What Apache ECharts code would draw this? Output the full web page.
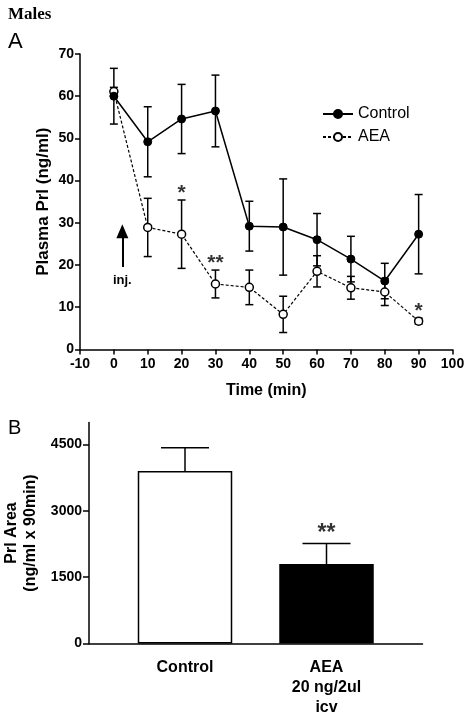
<!DOCTYPE html>
<html>
<head>
<meta charset="utf-8">
<script src="https://cdn.jsdelivr.net/npm/echarts@6/dist/echarts.min.js"></script>
<style>
html,body{margin:0;padding:0;background:#fff;}
#c{width:465px;height:717px;}
</style>
</head>
<body>
<div id="c"></div>
<script>
// ---- Panel A data ----
const timeMin = [0, 10, 20, 30, 40, 50, 60, 70, 80, 90];
const controlMean = [60.0, 49.2, 54.6, 56.5, 29.2, 29.0, 26.0, 21.4, 16.2, 27.3];
const controlSem  = [6.6, 8.3, 8.2, 8.5, 5.9, 11.4, 6.2, 5.4, 4.2, 9.4];
const aeaMean = [61.1, 28.9, 27.3, 15.5, 14.7, 8.3, 18.5, 14.6, 13.6, 6.7];
const aeaSem  = [1.0, 6.9, 8.1, 3.3, 4.1, 4.3, 3.7, 2.7, 3.2, 0.7];
const sigTime = [20, 30, 90];
const sigText = ['*', '**', '*'];
const injTime = 2.5;
const injFrom = 19.5;
const injTo = 28;
const xTicksA = [-10, 0, 10, 20, 30, 40, 50, 60, 70, 80, 90, 100];
const yTicksA = [0, 10, 20, 30, 40, 50, 60, 70];

// ---- Panel B data ----
const groupLabels = ['Control', 'AEA\n20 ng/2ul\nicv'];
const areaMean = [3900, 1800];
const areaSem = [530, 460];
const areaSig = ['', '**'];
const yTicksB = [0, 1500, 3000, 4500];

const FONT = '"Liberation Sans", Arial, Helvetica, sans-serif';
const chart = echarts.init(document.getElementById('c'), null, {renderer: 'canvas'});

function errData(means, sems) {
  return timeMin.map((t, i) => [t, means[i], sems[i]]);
}
function errRender(params, api) {
  const x = api.value(0), m = api.value(1), s = api.value(2);
  const t = api.coord([x, m + s]);
  const b = api.coord([x, m - s]);
  const hw = 4;
  const st = {stroke: '#000', lineWidth: 1.5};
  return {type: 'group', children: [
    {type: 'line', shape: {x1: t[0], y1: t[1], x2: b[0], y2: b[1]}, style: st},
    {type: 'line', shape: {x1: t[0] - hw, y1: t[1], x2: t[0] + hw, y2: t[1]}, style: st},
    {type: 'line', shape: {x1: b[0] - hw, y1: b[1], x2: b[0] + hw, y2: b[1]}, style: st}
  ]};
}
function barErrRender(params, api) {
  const x = api.value(0), m = api.value(1), s = api.value(2);
  const t = api.coord([x, m + s]);
  const b = api.coord([x, m]);
  const hw = 24;
  const st = {stroke: '#000', lineWidth: 1.5};
  return {type: 'group', children: [
    {type: 'line', shape: {x1: t[0], y1: t[1], x2: b[0], y2: b[1]}, style: st},
    {type: 'line', shape: {x1: t[0] - hw, y1: t[1], x2: t[0] + hw, y2: t[1]}, style: st}
  ]};
}

const axisLineSt = {show: true, onZero: false, lineStyle: {color: '#000', width: 1.5}};
const tickLab = {color: '#000', fontFamily: FONT, fontWeight: 'bold', fontSize: 14, formatter: v => String(v)};

const sigIdx = sigTime.map(t => timeMin.indexOf(t));

const option = {
  animation: false,
  backgroundColor: '#fff',
  title: [
    {text: 'Males', left: 3, top: 1, textStyle: {fontFamily: '"Liberation Serif", "Times New Roman", serif', fontWeight: 'bold', fontSize: 17, color: '#000'}},
    {text: 'A', left: 3, top: 26, textStyle: {fontFamily: FONT, fontWeight: 'normal', fontSize: 22, color: '#000'}},
    {text: 'B', left: 3, top: 413, textStyle: {fontFamily: FONT, fontWeight: 'normal', fontSize: 20, color: '#000'}}
  ],
  legend: {
    orient: 'vertical', left: 317, top: 100,
    itemWidth: 30, itemHeight: 10, itemGap: 5,
    textStyle: {fontFamily: FONT, fontSize: 16, color: '#000', lineHeight: 18},
    data: ['Control', 'AEA']
  },
  grid: [
    {left: 80, right: 12.5, top: 54, bottom: 367.6, outerBoundsMode: 'none'},
    {left: 89, right: 42.5, top: 422.5, bottom: 73.5, outerBoundsMode: 'none'},
    {left: 114.25, right: 67.75, top: 422.5, bottom: 73.5, outerBoundsMode: 'none'}
  ],
  xAxis: [
    {gridIndex: 0, type: 'value', min: -10, max: 100, interval: 10,
     axisLine: axisLineSt, axisTick: {show: true, length: 5, lineStyle: {color: '#000', width: 1.5}, customValues: xTicksA},
     axisLabel: Object.assign({margin: 8, customValues: xTicksA}, tickLab), splitLine: {show: false},
     name: 'Time (min)', nameLocation: 'middle', nameGap: 33, nameMoveOverlap: false,
     nameTextStyle: {fontFamily: FONT, fontWeight: 'bold', fontSize: 16, color: '#000'}},
    {gridIndex: 1, type: 'value', min: 0, max: 1, axisLine: axisLineSt,
     axisTick: {show: false}, axisLabel: {show: false}, splitLine: {show: false}},
    {gridIndex: 2, type: 'category', data: groupLabels, axisLine: {show: false}, axisTick: {show: false},
     axisLabel: {color: '#000', fontFamily: FONT, fontWeight: 'bold', fontSize: 16, lineHeight: 20, margin: 14, interval: 0}}
  ],
  yAxis: [
    {gridIndex: 0, type: 'value', min: 0, max: 70, interval: 10,
     axisLine: axisLineSt, axisTick: {show: true, length: 5, lineStyle: {color: '#000', width: 1.5}, customValues: yTicksA},
     axisLabel: Object.assign({margin: 6, customValues: yTicksA}, tickLab), splitLine: {show: false},
     name: 'Plasma Prl (ng/ml)', nameLocation: 'middle', nameGap: 28, nameMoveOverlap: false,
     nameTextStyle: {fontFamily: FONT, fontWeight: 'bold', fontSize: 17, color: '#000'}},
    {gridIndex: 1, type: 'value', min: 0, max: 5000,
     axisLine: axisLineSt, axisTick: {show: true, length: 6, lineStyle: {color: '#000', width: 1.5}, customValues: yTicksB},
     axisLabel: Object.assign({margin: 7, customValues: yTicksB}, tickLab), splitLine: {show: false},
     name: 'Prl Area\n(ng/ml x 90min)', nameLocation: 'middle', nameGap: 49, nameMoveOverlap: false,
     nameTextStyle: {fontFamily: FONT, fontWeight: 'bold', fontSize: 16, lineHeight: 19, color: '#000'}},
    {gridIndex: 2, type: 'value', min: 0, max: 5000, show: false}
  ],
  series: [
    {type: 'custom', name: 'errC', xAxisIndex: 0, yAxisIndex: 0, renderItem: errRender,
     data: errData(controlMean, controlSem), z: 1, silent: true},
    {type: 'custom', name: 'errA', xAxisIndex: 0, yAxisIndex: 0, renderItem: errRender,
     data: errData(aeaMean, aeaSem), z: 1, silent: true},
    {type: 'line', name: 'AEA', xAxisIndex: 0, yAxisIndex: 0,
     data: timeMin.map((t, i) => [t, aeaMean[i]]),
     symbol: 'circle', symbolSize: 8,
     lineStyle: {color: '#000', width: 1.2, type: [3, 2]},
     itemStyle: {color: '#fff', borderColor: '#000', borderWidth: 1.5}, z: 3,
     markLine: {
       silent: true, symbol: ['none', 'triangle'], symbolSize: [12, 14],
       lineStyle: {color: '#000', width: 2, type: 'solid'},
       label: {show: true, position: 'start', formatter: 'inj.', distance: 7,
               color: '#000', fontFamily: FONT, fontWeight: 'bold', fontSize: 13},
       data: [[{coord: [injTime, injFrom]}, {coord: [injTime, injTo]}]]
     }},
    {type: 'line', name: 'Control', xAxisIndex: 0, yAxisIndex: 0,
     data: timeMin.map((t, i) => [t, controlMean[i]]),
     symbol: 'circle', symbolSize: 8,
     lineStyle: {color: '#000', width: 1.5},
     itemStyle: {color: '#000', borderColor: '#000', borderWidth: 1}, z: 4},
    {type: 'scatter', name: 'sigA', xAxisIndex: 0, yAxisIndex: 0, symbolSize: 0, silent: true,
     data: sigIdx.map((i, k) => ({value: [timeMin[i], aeaMean[i] + aeaSem[i]], txt: sigText[k]})),
     label: {show: true, position: 'top', distance: -4, formatter: p => p.data.txt,
             color: '#000', fontFamily: FONT, fontWeight: 'bold', fontSize: 21}},
    {type: 'bar', name: 'bars', xAxisIndex: 2, yAxisIndex: 2, barWidth: 94.5,
     data: areaMean.map((v, i) => ({value: v, itemStyle: {color: i === 0 ? '#fff' : '#000', borderColor: '#000', borderWidth: 1.5}})), z: 2},
    {type: 'custom', name: 'errB', xAxisIndex: 2, yAxisIndex: 2, renderItem: barErrRender,
     data: areaMean.map((v, i) => [i, v, areaSem[i]]), z: 1, silent: true},
    {type: 'scatter', name: 'sigB', xAxisIndex: 2, yAxisIndex: 2, symbolSize: 0, silent: true,
     data: areaMean.map((v, i) => ({value: [i, v + areaSem[i]], txt: areaSig[i]})),
     label: {show: true, position: 'top', distance: -2, formatter: p => p.data.txt,
             color: '#000', fontFamily: FONT, fontWeight: 'bold', fontSize: 23}}
  ]
};
chart.setOption(option);
</script>
</body>
</html>
